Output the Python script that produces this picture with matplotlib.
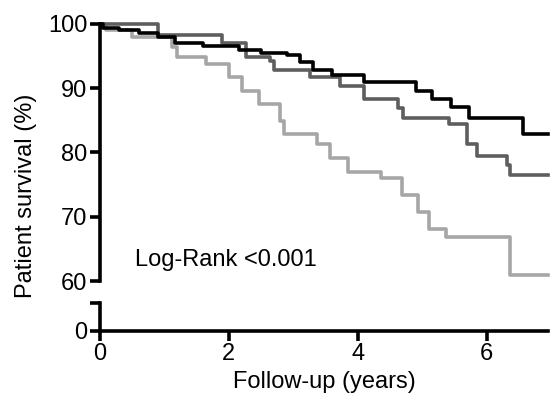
import matplotlib
matplotlib.use("Agg")
import matplotlib.pyplot as plt

plt.rcParams['font.family'] = ['Liberation Sans', 'DejaVu Sans']

t_black = [0, 0.05, 0.3, 0.6, 0.9, 1.17, 1.6, 2.16, 2.5, 2.9, 3.1, 3.3, 3.6, 4.1, 4.58, 4.9, 5.15, 5.45, 5.73, 6.57, 6.95]
s_black = [100, 99.4, 99.0, 98.6, 98.0, 97.0, 96.5, 95.9, 95.5, 95.1, 94.0, 92.8, 92.0, 90.9, 90.9, 89.5, 88.3, 87.0, 85.4, 82.8, 82.8]

t_dark = [0, 0.9, 1.9, 2.27, 2.63, 2.7, 3.26, 3.73, 4.1, 4.63, 4.7, 5.42, 5.69, 5.85, 6.31, 6.36, 6.95]
s_dark = [100, 98.3, 97.0, 94.8, 94.3, 92.8, 91.7, 90.4, 88.3, 86.9, 85.4, 84.4, 81.3, 79.4, 78.1, 76.5, 76.5]

t_light = [0, 0.1, 0.5, 1.12, 1.2, 1.64, 2.0, 2.2, 2.47, 2.79, 2.85, 3.37, 3.57, 3.84, 4.36, 4.68, 4.94, 5.1, 5.37, 6.36, 6.95]
s_light = [100, 99.0, 97.9, 96.4, 94.8, 93.8, 91.7, 89.6, 87.6, 84.9, 82.8, 81.3, 79.1, 77.0, 76.0, 73.4, 70.8, 68.1, 66.9, 60.9, 60.9]

x_ticks = [0, 2, 4, 6]
y_ticks_top = [60, 70, 80, 90, 100]

fs = 17
fig = plt.figure(figsize=(5.51, 4.05), dpi=100)
ax = fig.add_axes([0.1815, 0.306, 0.813, 0.635])
axb = fig.add_axes([0.1815, 0.183, 0.813, 0.069])

lw = 2.6
for t, s, c in [(t_light, s_light, '#a6a6a6'), (t_dark, s_dark, '#5e5e5e'), (t_black, s_black, 'black')]:
    ax.step(t, s, where='post', color=c, lw=lw, clip_on=False)

ax.set_xlim(0, 6.95)
ax.set_ylim(60, 100)
ax.set_yticks(y_ticks_top)
ax.set_xticks([])
for sp in ['top', 'right', 'bottom']:
    ax.spines[sp].set_visible(False)
ax.spines['left'].set_linewidth(2.6)
ax.tick_params(axis='y', width=2.6, length=7, labelsize=fs, pad=2)
ax.text(0.55, 62.3, 'Log-Rank <0.001', fontsize=fs)
ax.set_ylabel('Patient survival (%)', fontsize=fs)
ax.yaxis.set_label_coords(-0.14, 0.33)

axb.set_xlim(0, 6.95)
axb.set_ylim(0, 10)
axb.set_yticks([0, 10])
axb.set_yticklabels(['0', ''])
axb.set_xticks(x_ticks)
for sp in ['top', 'right']:
    axb.spines[sp].set_visible(False)
axb.spines['left'].set_linewidth(2.6)
axb.spines['bottom'].set_linewidth(2.6)
axb.tick_params(width=2.6, length=7, labelsize=fs, pad=2)
axb.set_xlabel('Follow-up (years)', fontsize=fs, labelpad=4)

fig.savefig('out.png', dpi=100)
